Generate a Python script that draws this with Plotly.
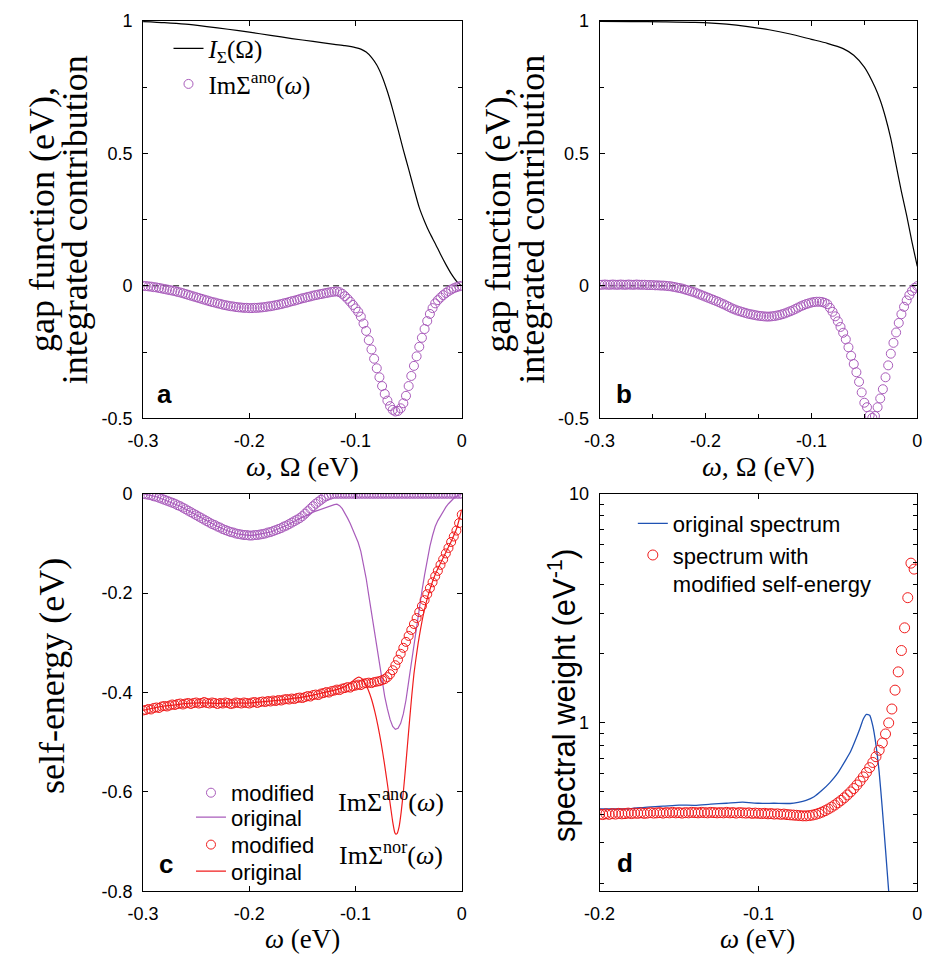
import math
import plotly.graph_objects as go

# ---------------- data ----------------
# common frequency grid for panels a, b, c (eV)
OMEGA_ABC = [round(-0.3 + 0.0025 * i, 4) for i in range(121)]
# grid for panel d (eV)
OMEGA_D = [round(-0.2 + 0.002 * i, 4) for i in range(100)]

# panel a: Im Sigma^ano (original)
IM_ANO_A = [
    0.000, -0.001, -0.002, -0.003, -0.005, -0.006, -0.008, -0.010, -0.012, -0.014,
    -0.016, -0.018, -0.020, -0.023, -0.025, -0.028, -0.031, -0.034, -0.037, -0.040,
    -0.043, -0.046, -0.049, -0.052, -0.055, -0.058, -0.061, -0.063, -0.066, -0.068,
    -0.071, -0.073, -0.075, -0.077, -0.078, -0.080, -0.081, -0.082, -0.083, -0.083,
    -0.084, -0.084, -0.083, -0.083, -0.082, -0.081, -0.080, -0.078, -0.077, -0.075,
    -0.073, -0.071, -0.069, -0.066, -0.064, -0.061, -0.058, -0.056, -0.053, -0.050,
    -0.047, -0.045, -0.042, -0.040, -0.037, -0.035, -0.033, -0.031, -0.029, -0.027,
    -0.025, -0.023, -0.022, -0.021, -0.024, -0.030, -0.039, -0.049, -0.060, -0.072,
    -0.085, -0.098, -0.116, -0.142, -0.170, -0.205, -0.240, -0.275, -0.311, -0.345,
    -0.378, -0.408, -0.433, -0.454, -0.468, -0.474, -0.472, -0.462, -0.443, -0.415,
    -0.378, -0.340, -0.302, -0.266, -0.230, -0.196, -0.163, -0.133, -0.106, -0.084,
    -0.066, -0.054, -0.044, -0.035, -0.027, -0.020, -0.014, -0.009, -0.005, -0.002,
    0.000]

# panel a: integrated contribution I_Sigma(Omega)
I_A_X = [-0.300, -0.280, -0.260, -0.240, -0.220, -0.200, -0.180, -0.160, -0.140, -0.120,
         -0.110, -0.100, -0.095, -0.090, -0.085, -0.080, -0.075, -0.070, -0.065, -0.060,
         -0.055, -0.050, -0.045, -0.040, -0.035, -0.030, -0.025, -0.020, -0.015, -0.010,
         -0.005, 0.000]
I_A = [0.997, 0.993, 0.987, 0.978, 0.968, 0.957, 0.945, 0.933, 0.922, 0.911,
       0.906, 0.899, 0.893, 0.882, 0.862, 0.833, 0.790, 0.733, 0.665, 0.590,
       0.513, 0.440, 0.366, 0.295, 0.243, 0.198, 0.160, 0.119, 0.081, 0.046,
       0.018, 0.000]

# panel b
IM_ANO_B = [
    0.004, 0.004, 0.005, 0.004, 0.004, 0.005, 0.004, 0.004, 0.005, 0.004,
    0.004, 0.005, 0.004, 0.004, 0.005, 0.004, 0.004, 0.004, 0.003, 0.003,
    0.003, 0.002, 0.002, 0.001, 0.001, 0.000, -0.001, -0.002, -0.004, -0.006,
    -0.008, -0.010, -0.013, -0.016, -0.019, -0.022, -0.025, -0.029, -0.033, -0.037,
    -0.041, -0.045, -0.049, -0.053, -0.057, -0.061, -0.066, -0.070, -0.075, -0.080,
    -0.085, -0.089, -0.093, -0.096, -0.099, -0.102, -0.105, -0.107, -0.109, -0.111,
    -0.113, -0.114, -0.115, -0.116, -0.116, -0.115, -0.114, -0.112, -0.110, -0.107,
    -0.104, -0.100, -0.096, -0.092, -0.087, -0.082, -0.077, -0.073, -0.069, -0.066,
    -0.063, -0.061, -0.060, -0.060, -0.061, -0.064, -0.069, -0.083, -0.098, -0.115,
    -0.134, -0.155, -0.177, -0.202, -0.232, -0.264, -0.295, -0.326, -0.362, -0.402,
    -0.441, -0.458, -0.489, -0.498, -0.491, -0.458, -0.425, -0.390, -0.345, -0.300,
    -0.256, -0.215, -0.176, -0.140, -0.107, -0.079, -0.055, -0.035, -0.019, -0.008,
    -0.001]
I_B_X = [-0.300, -0.270, -0.240, -0.210, -0.180, -0.160, -0.140, -0.120, -0.100, -0.085,
         -0.070, -0.060, -0.050, -0.040, -0.035, -0.030, -0.025, -0.020, -0.015, -0.010,
         -0.005, 0.000]
I_B = [0.998, 0.997, 0.996, 0.994, 0.987, 0.978, 0.966, 0.950, 0.930, 0.915,
       0.895, 0.870, 0.825, 0.750, 0.700, 0.635, 0.555, 0.455, 0.355, 0.265,
       0.165, 0.073]

# panel c: modified Im Sigma^ano (circles); original = IM_ANO_A (line)
IM_ANO_MOD_C = [
    0.000, -0.001, -0.002, -0.003, -0.005, -0.006, -0.008, -0.010, -0.012, -0.014,
    -0.016, -0.018, -0.020, -0.023, -0.025, -0.028, -0.031, -0.034, -0.037, -0.040,
    -0.043, -0.046, -0.049, -0.052, -0.055, -0.058, -0.061, -0.063, -0.066, -0.068,
    -0.071, -0.073, -0.075, -0.077, -0.078, -0.080, -0.081, -0.082, -0.083, -0.083,
    -0.084, -0.084, -0.083, -0.083, -0.082, -0.081, -0.080, -0.078, -0.077, -0.075,
    -0.073, -0.071, -0.069, -0.066, -0.064, -0.061, -0.058, -0.055, -0.052, -0.049,
    -0.045, -0.040, -0.035, -0.030, -0.025, -0.020, -0.016, -0.012, -0.008, -0.005,
    -0.003, -0.001, 0.000, 0.000, 0.000, 0.000, 0.000, 0.000, 0.000, 0.000,
    0.000, 0.000, 0.000, 0.000, 0.000, 0.000, 0.000, 0.000, 0.000, 0.000,
    0.000, 0.000, 0.000, 0.000, 0.000, 0.000, 0.000, 0.000, 0.000, 0.000,
    0.000, 0.000, 0.000, 0.000, 0.000, 0.000, 0.000, 0.000, 0.000, 0.000,
    0.000, 0.000, 0.000, 0.000, 0.000, 0.000, 0.000, 0.000, 0.000, 0.000,
    0.000]
# panel c: modified Im Sigma^nor (circles)
IM_NOR_MOD_C = [
    -0.436, -0.435, -0.433, -0.434, -0.431, -0.430, -0.431, -0.428, -0.427, -0.428,
    -0.426, -0.424, -0.425, -0.423, -0.422, -0.424, -0.422, -0.421, -0.423, -0.421,
    -0.420, -0.422, -0.421, -0.419, -0.421, -0.422, -0.420, -0.421, -0.423, -0.421,
    -0.422, -0.420, -0.421, -0.423, -0.422, -0.420, -0.421, -0.422, -0.420, -0.421,
    -0.422, -0.420, -0.419, -0.421, -0.419, -0.418, -0.419, -0.417, -0.418, -0.416,
    -0.417, -0.415, -0.416, -0.414, -0.413, -0.414, -0.412, -0.413, -0.411, -0.410,
    -0.411, -0.409, -0.407, -0.408, -0.405, -0.404, -0.405, -0.402, -0.401, -0.399,
    -0.400, -0.397, -0.396, -0.394, -0.395, -0.392, -0.391, -0.389, -0.390, -0.387,
    -0.386, -0.384, -0.385, -0.382, -0.381, -0.380, -0.381, -0.379, -0.378, -0.377,
    -0.375, -0.373, -0.369, -0.363, -0.355, -0.345, -0.334, -0.322, -0.310, -0.298,
    -0.286, -0.274, -0.262, -0.250, -0.238, -0.226, -0.214, -0.202, -0.190, -0.178,
    -0.166, -0.155, -0.143, -0.132, -0.120, -0.109, -0.097, -0.086, -0.074, -0.059,
    -0.042]
# panel c: original Im Sigma^nor (line)
NOR_ORIG_X = [-0.300, -0.290, -0.280, -0.270, -0.260, -0.250, -0.240, -0.230, -0.220, -0.210,
              -0.200, -0.190, -0.180, -0.170, -0.160, -0.150, -0.140, -0.130, -0.120, -0.110,
              -0.105, -0.100, -0.097, -0.094, -0.091, -0.088, -0.085, -0.082, -0.079, -0.076,
              -0.073, -0.070, -0.067, -0.065, -0.063, -0.062, -0.061, -0.059, -0.057, -0.055,
              -0.053, -0.051, -0.049, -0.047, -0.045, -0.043, -0.041, -0.039, -0.037, -0.035,
              -0.032, -0.029, -0.026, -0.023, -0.020, -0.015, -0.010, -0.005, 0.000]
NOR_ORIG = [-0.436, -0.431, -0.427, -0.425, -0.422, -0.421, -0.421, -0.422, -0.421, -0.421,
            -0.421, -0.419, -0.417, -0.415, -0.412, -0.409, -0.405, -0.400, -0.395, -0.388,
            -0.381, -0.372, -0.369, -0.372, -0.381, -0.395, -0.413, -0.437, -0.466, -0.500,
            -0.540, -0.584, -0.630, -0.660, -0.682, -0.685, -0.684, -0.670, -0.640, -0.600,
            -0.553, -0.503, -0.453, -0.405, -0.362, -0.330, -0.300, -0.275, -0.252, -0.232,
            -0.207, -0.186, -0.168, -0.153, -0.140, -0.118, -0.096, -0.071, -0.032]

# panel d: spectral weight
BLUE_X = [-0.200, -0.190, -0.180, -0.170, -0.160, -0.150, -0.140, -0.130, -0.120, -0.110,
          -0.100, -0.090, -0.080, -0.075, -0.070, -0.065, -0.060, -0.055, -0.050, -0.045,
          -0.042, -0.039, -0.036, -0.034, -0.032, -0.030, -0.028, -0.026, -0.024, -0.022,
          -0.020, -0.018, -0.0165]
BLUE = [0.421, 0.421, 0.423, 0.429, 0.433, 0.438, 0.437, 0.442, 0.446, 0.451,
        0.446, 0.446, 0.445, 0.450, 0.459, 0.476, 0.508, 0.549, 0.605, 0.690,
        0.750, 0.840, 0.950, 1.040, 1.090, 1.080, 0.970, 0.800, 0.610, 0.420,
        0.280, 0.184, 0.140]
RED_D = [
    0.400, 0.398, 0.401, 0.399, 0.402, 0.400, 0.403, 0.401, 0.402, 0.404,
    0.402, 0.404, 0.403, 0.405, 0.403, 0.404, 0.406, 0.404, 0.405, 0.406,
    0.404, 0.406, 0.405, 0.407, 0.405, 0.406, 0.404, 0.406, 0.405, 0.407,
    0.406, 0.405, 0.407, 0.406, 0.405, 0.407, 0.406, 0.405, 0.406, 0.405,
    0.407, 0.405, 0.406, 0.404, 0.406, 0.405, 0.404, 0.405, 0.403, 0.404,
    0.403, 0.402, 0.403, 0.401, 0.402, 0.400, 0.401, 0.399, 0.400, 0.398,
    0.397, 0.396, 0.395, 0.394, 0.393, 0.393, 0.394, 0.396, 0.399, 0.403,
    0.408, 0.414, 0.421, 0.429, 0.438, 0.448, 0.459, 0.471, 0.485, 0.500,
    0.517, 0.536, 0.557, 0.581, 0.608, 0.638, 0.672, 0.712, 0.760, 0.818,
    0.895, 1.000, 1.150, 1.390, 1.670, 2.070, 2.600, 3.520, 4.980, 4.690]

# tick labels
TICKS_X_ABC = [-0.3, -0.2, -0.1, 0.0]
TICKTEXT_X_ABC = ["-0.3", "-0.2", "-0.1", "0"]
TICKS_Y_AB = [-0.5, 0.0, 0.5, 1.0]
TICKTEXT_Y_AB = ["-0.5", "0", "0.5", "1"]
MINOR_Y_AB = [-0.25, 0.25, 0.75]
MINOR_X_B = [-0.25, -0.15, -0.05]
TICKS_Y_C = [-0.8, -0.6, -0.4, -0.2, 0.0]
TICKTEXT_Y_C = ["-0.8", "-0.6", "-0.4", "-0.2", "0"]
TICKS_X_D = [-0.2, -0.1, 0.0]
TICKTEXT_X_D = ["-0.2", "-0.1", "0"]
TICKS_Y_D = [1, 10]
TICKTEXT_Y_D = ["1", "10"]
MINOR_Y_D = [0.2, 0.3, 0.4, 0.5, 0.6, 0.7, 0.8, 0.9, 2, 3, 4, 5, 6, 7, 8, 9]

RANGE_X_ABC = [-0.3, 0.0]
RANGE_Y_AB = [-0.5, 1.0]
RANGE_Y_C = [-0.8, 0.0]
RANGE_X_D = [-0.2, 0.0]
RANGE_Y_D = [0.184, 10.0]

# ---------------- style ----------------
W, H = 935, 966
PURPLE = "#a95cbb"
RED = "#f01c1c"
BLUE_C = "#1f52b3"
SANS = "Liberation Sans, Arial, sans-serif"
SERIF = "Liberation Serif, Times New Roman, serif"


def fx(p):
    return p / W


def fy(p):
    return 1 - p / H


LEFT = [fx(130), fx(456)]
RIGHT = [fx(597), fx(922)]
TOP = [fy(417), fy(11)]
BOTTOM = [fy(900), fy(494)]


def axis(domain, rng, tickvals, ticktext, anchor, minor=None, log=False):
    d = dict(domain=domain, range=rng, anchor=anchor, tickmode="array",
             tickvals=tickvals, ticktext=ticktext, ticks="inside", ticklen=5,
             tickwidth=1, tickcolor="black", showline=True, linecolor="black",
             linewidth=1, mirror="ticks", showgrid=False, zeroline=False,
             tickfont=dict(family=SANS, size=18, color="black"),
             ticklabelstandoff=6)
    if log:
        d["type"] = "log"
    if minor is not None:
        d["minor"] = dict(tickmode="array", tickvals=minor, ticks="inside",
                          ticklen=4, tickcolor="black", showgrid=False)
    return d


def circles(color, size=9):
    return dict(symbol="circle-open", size=size, color=color,
                line=dict(width=1, color=color))


fig = go.Figure()

# ----- panel a -----
fig.add_trace(go.Scatter(x=RANGE_X_ABC, y=[0, 0], mode="lines",
                         line=dict(color="black", width=1, dash="6px,4px"),
                         xaxis="x", yaxis="y", showlegend=False, hoverinfo="skip"))
fig.add_trace(go.Scatter(x=I_A_X, y=I_A, mode="lines", line_shape="spline",
                         line=dict(color="black", width=1.2, smoothing=0.6),
                         name="<i>I</i><sub>Σ</sub>(Ω)", xaxis="x", yaxis="y",
                         legend="legend"))
fig.add_trace(go.Scatter(x=OMEGA_ABC, y=IM_ANO_A, mode="markers",
                         marker=circles(PURPLE),
                         name="ImΣ<sup>ano</sup>(<i>ω</i>)", xaxis="x", yaxis="y",
                         legend="legend"))

# ----- panel b -----
fig.add_trace(go.Scatter(x=RANGE_X_ABC, y=[0, 0], mode="lines",
                         line=dict(color="black", width=1, dash="6px,4px"),
                         xaxis="x2", yaxis="y2", showlegend=False, hoverinfo="skip"))
fig.add_trace(go.Scatter(x=I_B_X, y=I_B, mode="lines", line_shape="spline",
                         line=dict(color="black", width=1.2, smoothing=0.6),
                         xaxis="x2", yaxis="y2", showlegend=False))
fig.add_trace(go.Scatter(x=OMEGA_ABC, y=IM_ANO_B, mode="markers",
                         marker=circles(PURPLE),
                         xaxis="x2", yaxis="y2", showlegend=False))

# ----- panel c -----
fig.add_trace(go.Scatter(x=OMEGA_ABC, y=IM_ANO_MOD_C, mode="markers",
                         marker=circles(PURPLE),
                         name="modified", xaxis="x3", yaxis="y3", legend="legend2"))
fig.add_trace(go.Scatter(x=OMEGA_ABC, y=IM_ANO_A, mode="lines",
                         line=dict(color=PURPLE, width=1.2),
                         name="original", xaxis="x3", yaxis="y3", legend="legend3"))
fig.add_trace(go.Scatter(x=OMEGA_ABC, y=IM_NOR_MOD_C, mode="markers",
                         marker=circles(RED),
                         name="modified", xaxis="x3", yaxis="y3", legend="legend4"))
fig.add_trace(go.Scatter(x=NOR_ORIG_X, y=NOR_ORIG, mode="lines", line_shape="spline",
                         line=dict(color=RED, width=1.2, smoothing=0.5),
                         name="original", xaxis="x3", yaxis="y3", legend="legend5"))

# ----- panel d -----
fig.add_trace(go.Scatter(x=BLUE_X, y=BLUE, mode="lines", line_shape="spline",
                         line=dict(color=BLUE_C, width=1.3, smoothing=0.5),
                         name="original spectrum", xaxis="x4", yaxis="y4",
                         legend="legend6"))
fig.add_trace(go.Scatter(x=OMEGA_D, y=RED_D, mode="markers",
                         marker=circles(RED, 10),
                         name="spectrum with<br>modified self-energy",
                         xaxis="x4", yaxis="y4", legend="legend6"))

legend_common = dict(bgcolor="rgba(0,0,0,0)", borderwidth=0, xanchor="left",
                     yanchor="top", tracegroupgap=0, valign="top")
FONT_LEG_C = dict(family=SANS, size=22, color="black")

annotations = []


def ann(text, x, y, size, family, angle=0):
    annotations.append(dict(text=text, x=fx(x), y=fy(y), xref="paper", yref="paper",
                            showarrow=False, textangle=angle, xanchor="center",
                            yanchor="middle",
                            font=dict(family=family, size=size, color="black")))


# axis titles
ann("gap function (eV),", 26, 214, 36, SERIF, -90)
ann("integrated contribution", 60, 214, 36, SERIF, -90)
ann("gap function (eV),", 493, 214, 36, SERIF, -90)
ann("integrated contribution", 527, 214, 36, SERIF, -90)
ann("self-energy (eV)", 37, 680, 36, SERIF, -90)
ann("spectral weight (eV<sup>-1</sup>)", 558, 700, 31, SANS, -90)
ann("<i>ω</i>, Ω (eV)", 293, 466, 28, SERIF)
ann("<i>ω</i>, Ω (eV)", 760, 466, 28, SERIF)
ann("<i>ω</i> (eV)", 293, 949, 27, SERIF)
ann("<i>ω</i> (eV)", 759, 949, 27, SERIF)
# panel letters
ann("<b>a</b>", 152, 392, 26, SANS)
ann("<b>b</b>", 622, 392, 26, SANS)
ann("<b>c</b>", 153, 872, 26, SANS)
ann("<b>d</b>", 623, 871, 26, SANS)
# group labels in panel c legend
ann("ImΣ<sup>ano</sup>(<i>ω</i>)", 384, 807, 26, SERIF)
ann("ImΣ<sup>nor</sup>(<i>ω</i>)", 384, 861, 26, SERIF)

fig.update_layout(
    width=W, height=H,
    margin=dict(l=0, r=0, t=0, b=0),
    paper_bgcolor="white", plot_bgcolor="white",
    xaxis=axis(LEFT, RANGE_X_ABC, TICKS_X_ABC, TICKTEXT_X_ABC, "y"),
    yaxis=axis(TOP, RANGE_Y_AB, TICKS_Y_AB, TICKTEXT_Y_AB, "x", MINOR_Y_AB),
    xaxis2=axis(RIGHT, RANGE_X_ABC, TICKS_X_ABC, TICKTEXT_X_ABC, "y2", MINOR_X_B),
    yaxis2=axis(TOP, RANGE_Y_AB, TICKS_Y_AB, TICKTEXT_Y_AB, "x2", MINOR_Y_AB),
    xaxis3=axis(LEFT, RANGE_X_ABC, TICKS_X_ABC, TICKTEXT_X_ABC, "y3"),
    yaxis3=axis(BOTTOM, RANGE_Y_C, TICKS_Y_C, TICKTEXT_Y_C, "x3"),
    xaxis4=axis(RIGHT, RANGE_X_D, TICKS_X_D, TICKTEXT_X_D, "y4"),
    yaxis4=axis(BOTTOM, [math.log10(v) for v in RANGE_Y_D], TICKS_Y_D, TICKTEXT_Y_D,
                "x4", MINOR_Y_D, log=True),
    legend=dict(x=fx(156), y=fy(16), font=dict(family=SERIF, size=25, color="black"),
                **legend_common),
    legend2=dict(x=fx(179), y=fy(778), font=FONT_LEG_C, **legend_common),
    legend3=dict(x=fx(179), y=fy(803), font=FONT_LEG_C, **legend_common),
    legend4=dict(x=fx(179), y=fy(831), font=FONT_LEG_C, **legend_common),
    legend5=dict(x=fx(179), y=fy(858), font=FONT_LEG_C, **legend_common),
    legend6=dict(x=fx(631), y=fy(503), font=FONT_LEG_C, **legend_common),
    annotations=annotations,
    showlegend=True,
)

fig.write_html("out.html")
